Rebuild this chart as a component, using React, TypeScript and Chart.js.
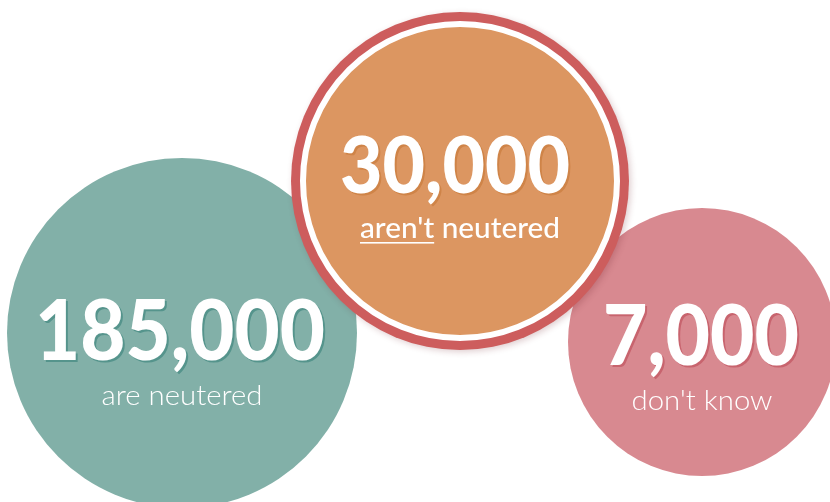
import React, { useEffect, useRef } from "react";
import { Chart, registerables } from "chart.js";

Chart.register(...registerables);

// ---- data ----
const categories = ["are neutered", "aren't neutered", "don't know"];
const values = [185000, 30000, 7000];
const emphasis = ["", "aren't", ""];

// ---- styling / layout ----
const fills = ["#82B0A8", "#DC9661", "#D88990"];
const shadows = ["#55948C", "#CF8448", "#C8646E"];
const bubbleX = [182, 460, 702];
const bubbleY = [333, 181, 342];
const bubbleR = [175, 157, 134];
const drawOrder = [2, 0, 1];
const numberOffsetY = [27, 12, 23];
const numberOffsetX = [-2, -5, -1];
const numberWidth = [290, 230, 196];
const numberSize = [84, 78, 84];
const captionOffsetY = [72, 57, 68];
const captionOffsetX = [0, 0, 0];
const captionWidth = [161, 200, 141];
const ringColor = "#CD5D5D";

const fmt = (v: number) => v.toLocaleString("en-US");

const drawScaled = (
  ctx: CanvasRenderingContext2D,
  text: string,
  cx: number,
  by: number,
  targetW: number
) => {
  const w = ctx.measureText(text).width;
  const sx = targetW / w;
  ctx.save();
  ctx.translate(cx, by);
  ctx.scale(sx, 1);
  ctx.textAlign = "center";
  ctx.textBaseline = "alphabetic";
  ctx.fillText(text, 0, 0);
  ctx.restore();
  return sx;
};

const ringPlugin = {
  id: "ring",
  beforeDatasetDraw(chart: any, args: any) {
    if (args.index !== 1) return;
    const el = chart.getDatasetMeta(1).data[0];
    if (!el) return;
    const { x, y } = el.getProps(["x", "y"], true);
    const ctx = chart.ctx as CanvasRenderingContext2D;
    const r = bubbleR[1];
    ctx.save();
    ctx.shadowColor = "rgba(110,30,40,0.22)";
    ctx.shadowBlur = 6;
    ctx.shadowOffsetX = 2;
    ctx.shadowOffsetY = 2;
    ctx.beginPath();
    ctx.arc(x, y, r + 12, 0, Math.PI * 2);
    ctx.fillStyle = ringColor;
    ctx.fill();
    ctx.restore();
  },
};

const labelPlugin = {
  id: "bubbleLabels",
  afterDatasetsDraw(chart: any) {
    const ctx = chart.ctx as CanvasRenderingContext2D;
    categories.forEach((cat, i) => {
      const el = chart.getDatasetMeta(i).data[0];
      if (!el) return;
      const { x, y } = el.getProps(["x", "y"], true);
      const numText = fmt(values[i]);
      ctx.save();
      ctx.font = `900 ${numberSize[i]}px Lato, "Open Sans", sans-serif`;
      const nx = x + numberOffsetX[i];
      const ny = y + numberOffsetY[i];
      ctx.fillStyle = shadows[i];
      drawScaled(ctx, numText, nx + 2, ny + 2, numberWidth[i]);
      ctx.fillStyle = "#FFFFFF";
      drawScaled(ctx, numText, nx, ny, numberWidth[i]);

      ctx.font = `${i === 1 ? "500" : "300"} 28px Lato, "Open Sans", sans-serif`;
      ctx.fillStyle = "#FFFFFF";
      const cx = x + captionOffsetX[i];
      const cy = y + captionOffsetY[i];
      const sx = drawScaled(ctx, cat, cx, cy, captionWidth[i]);
      if (emphasis[i]) {
        const full = ctx.measureText(cat).width * sx;
        const part = ctx.measureText(emphasis[i]).width * sx;
        const left = cx - full / 2;
        ctx.fillRect(left, cy + 4, part, 1.6);
      }
      ctx.restore();
    });
  },
};

export default function App() {
  const ref = useRef<HTMLCanvasElement | null>(null);
  useEffect(() => {
    if (!ref.current) return;
    const chart = new Chart(ref.current, {
      type: "bubble",
      data: {
        datasets: categories.map((c, i) => ({
          label: c,
          data: [{ x: bubbleX[i], y: bubbleY[i], r: bubbleR[i], v: values[i] } as any],
          backgroundColor: fills[i],
          hoverBackgroundColor: fills[i],
          borderColor: i === 1 ? "#FFFFFF" : fills[i],
          hoverBorderColor: i === 1 ? "#FFFFFF" : fills[i],
          borderWidth: i === 1 ? 6 : 0,
          hoverBorderWidth: i === 1 ? 6 : 0,
          order: drawOrder[i],
          clip: false as any,
        })),
      },
      options: {
        responsive: false,
        animation: false,
        events: [],
        layout: { padding: 0, autoPadding: false },
        plugins: { legend: { display: false }, tooltip: { enabled: false } },
        elements: { point: { hoverRadius: 0 } },
        scales: {
          x: { type: "linear", min: 0, max: 830, display: false },
          y: { type: "linear", min: 0, max: 502, reverse: true, display: false },
        },
      },
      plugins: [ringPlugin, labelPlugin],
    });
    return () => chart.destroy();
  }, []);
  return (
    <div style={{ position: "fixed", left: 0, top: 0, width: 830, height: 502, background: "#FFFFFF" }}>
      <canvas ref={ref} width={830} height={502} style={{ display: "block" }} />
    </div>
  );
}
